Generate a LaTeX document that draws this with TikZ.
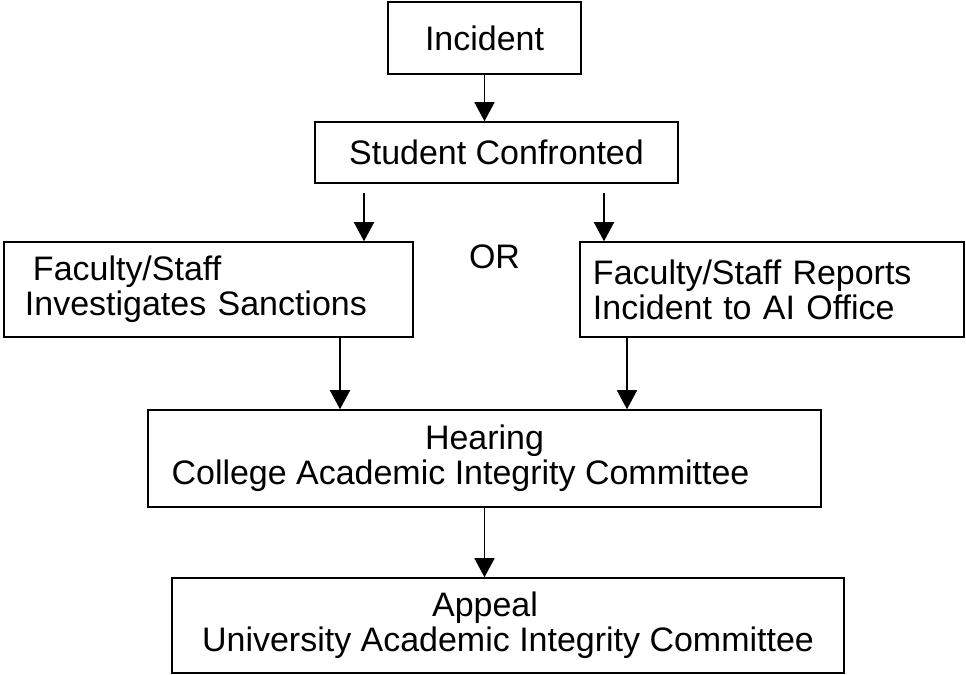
\documentclass[tikz,border=0pt]{standalone}
\usepackage{fontspec}
\setmainfont{Liberation Sans}
\usetikzlibrary{arrows.meta}

\tikzset{
    box/.style={draw, line width=1.3pt, align=center},
    flow/.style={->, line width=1.3pt}
}

\begin{document}
\begin{tikzpicture}[x=0.03cm, y=-0.03cm, font=\fontsize{29pt}{30pt}\selectfont,
    >={Triangle[length=0.57cm,width=0.6cm]}]

    \useasboundingbox (0,0) rectangle (966,675);

    \node[box, minimum width=5.79cm, minimum height=2.16cm] (inc) at (484.5,38) {Incident};
    \node[box, minimum width=10.89cm, minimum height=1.83cm] (conf) at (496.5,152.5) {Student Confronted};
    \node[box, align=left, text width=11.01cm, inner xsep=0.63cm, minimum height=2.85cm] (fsi) at (208.5,289.5) {\hspace*{0.24cm}Faculty/Staff\\Investigates Sanctions};
    \node[box, align=left, text width=10.74cm, inner xsep=0.39cm, minimum height=2.85cm] (fsr) at (772,289.5) {Faculty/Staff Reports\\Incident to AI Office};
    \node (or) at (494.5,257) {OR};
    \node[box, minimum width=20.19cm, minimum height=2.91cm] (hear) at (484.5,458.5) {Hearing\\College Academic Integrity Committee\rule{1.44cm}{0pt}};
    \node[box, minimum width=20.16cm, minimum height=2.85cm] (appeal) at (508,625.5) {Appeal\rule{1.38cm}{0pt}\\University Academic Integrity Committee};

    \coordinate (cl) at (364,193);
    \coordinate (cr) at (604,193);
    \coordinate (hl) at (340,0);
    \coordinate (hr) at (627,0);

    \draw[flow] (inc) -- (inc.south |- conf.north);
    \draw[flow] (cl) -- (cl |- fsi.north);
    \draw[flow] (cr) -- (cr |- fsr.north);
    \draw[flow] (fsi.south -| hl) -- (hl |- hear.north);
    \draw[flow] (fsr.south -| hr) -- (hr |- hear.north);
    \draw[flow] (hear) -- (appeal.north -| hear.south);
\end{tikzpicture}
\end{document}
